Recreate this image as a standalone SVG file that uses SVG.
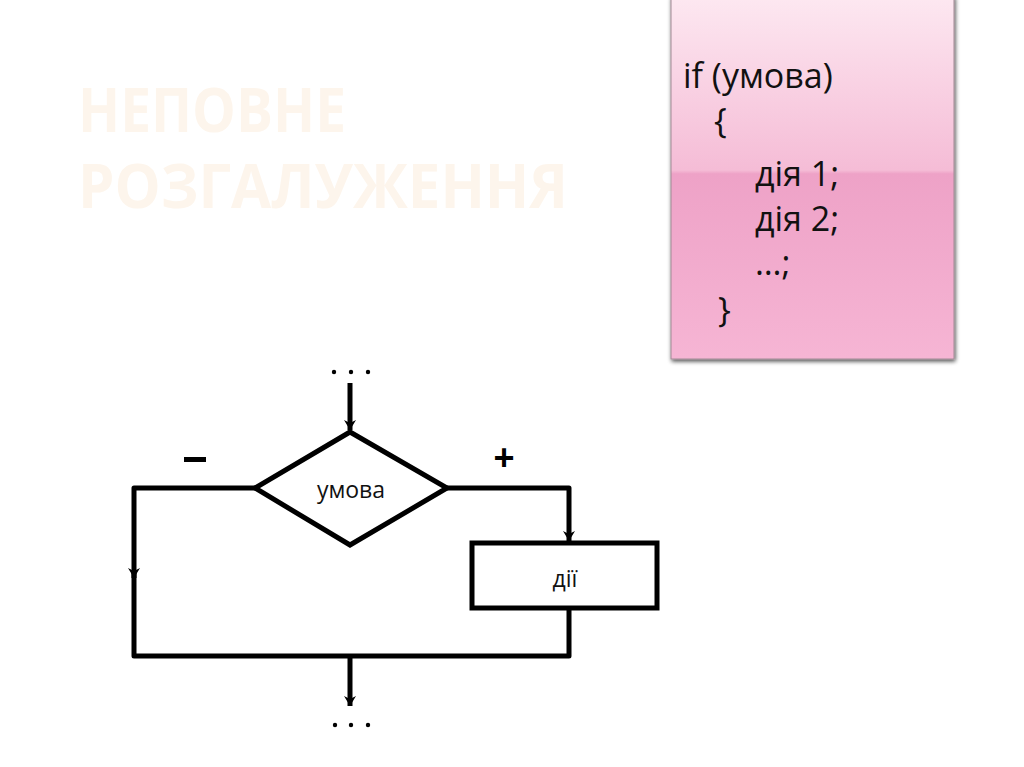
<svg xmlns="http://www.w3.org/2000/svg" width="1024" height="767" viewBox="0 0 1024 767">
<defs>
<linearGradient id="pink" x1="0" y1="0" x2="0" y2="1">
<stop offset="0" stop-color="#fde8f1"/>
<stop offset="0.48" stop-color="#f5bcd6"/>
<stop offset="0.49" stop-color="#eea2c7"/>
<stop offset="1" stop-color="#f6b5d4"/>
</linearGradient>
<filter id="sh" x="-10%" y="-10%" width="130%" height="130%">
<feGaussianBlur in="SourceAlpha" stdDeviation="2"/>
<feOffset dx="1" dy="2"/>
<feComponentTransfer><feFuncA type="linear" slope="0.7"/></feComponentTransfer>
<feMerge><feMergeNode/><feMergeNode in="SourceGraphic"/></feMerge>
</filter>
<marker id="arr" markerWidth="12" markerHeight="12" refX="10" refY="6" orient="auto" markerUnits="userSpaceOnUse">
<path d="M0,0 L10,6 L0,12 L3,6 Z" fill="#000"/>
</marker>
</defs>
<style>
.title{font-family:"Open Sans","Liberation Sans",sans-serif;font-weight:700;font-size:61px;fill:#fdf5ec}
.code{font-family:"Open Sans","Liberation Sans",sans-serif;font-size:34px;fill:#111}
.lbl{font-family:"Open Sans","Liberation Sans",sans-serif;font-size:23px;fill:#111;text-anchor:middle}
.sign{font-family:"Liberation Sans",sans-serif;font-weight:700;font-size:36px;fill:#000;text-anchor:middle}
.ln{fill:none;stroke:#000;stroke-width:5;stroke-linejoin:round}
.shape{fill:#fff;stroke:#000;stroke-width:5;stroke-linejoin:miter}
.dot{fill:#000}
</style>
<rect width="1024" height="767" fill="#fff"/>
<g id="title">
<text class="title" x="78" y="132" textLength="268" lengthAdjust="spacingAndGlyphs">НЕПОВНЕ</text>
<text class="title" x="78" y="208" textLength="490" lengthAdjust="spacingAndGlyphs">РОЗГАЛУЖЕННЯ</text>
</g>
<g id="code-box">
<rect x="671" y="-4" width="283" height="363" fill="url(#pink)" stroke="#a08a94" stroke-width="1" filter="url(#sh)"/>
<text class="code" x="683" y="88">if (умова)</text>
<text class="code" x="714" y="133">{</text>
<text class="code" x="755" y="186">дія 1;</text>
<text class="code" x="755" y="231">дія 2;</text>
<text class="code" x="755" y="275">…;</text>
<text class="code" x="718" y="322">}</text>
</g>
<g id="connectors">
<path class="ln" d="M350,383 V430" marker-end="url(#arr)"/>
<path class="ln" d="M255,488 H134 V578" marker-end="url(#arr)"/>
<path class="ln" d="M134,570 V656 H569 V608"/>
<path class="ln" d="M447,488 H569 V541" marker-end="url(#arr)"/>
<path class="ln" d="M350,656 V706" marker-end="url(#arr)"/>
</g>
<g id="start">
<circle class="dot" cx="334" cy="372" r="2.2"/>
<circle class="dot" cx="351" cy="372" r="2.2"/>
<circle class="dot" cx="368" cy="372" r="2.2"/>
</g>
<g id="condition">
<polygon class="shape" points="350,432 447,488 350,545 255,488"/>
<text class="lbl" x="351" y="498">умова</text>
</g>
<g id="labels">
<rect x="184" y="457" width="22" height="5" fill="#000"/>
<text class="sign" x="504" y="470">+</text>
</g>
<g id="action">
<rect class="shape" x="472" y="543" width="185" height="65"/>
<text class="lbl" x="565" y="587">дії</text>
</g>
<g id="end">
<circle class="dot" cx="335" cy="725" r="2.2"/>
<circle class="dot" cx="351" cy="725" r="2.2"/>
<circle class="dot" cx="368" cy="725" r="2.2"/>
</g>
</svg>
